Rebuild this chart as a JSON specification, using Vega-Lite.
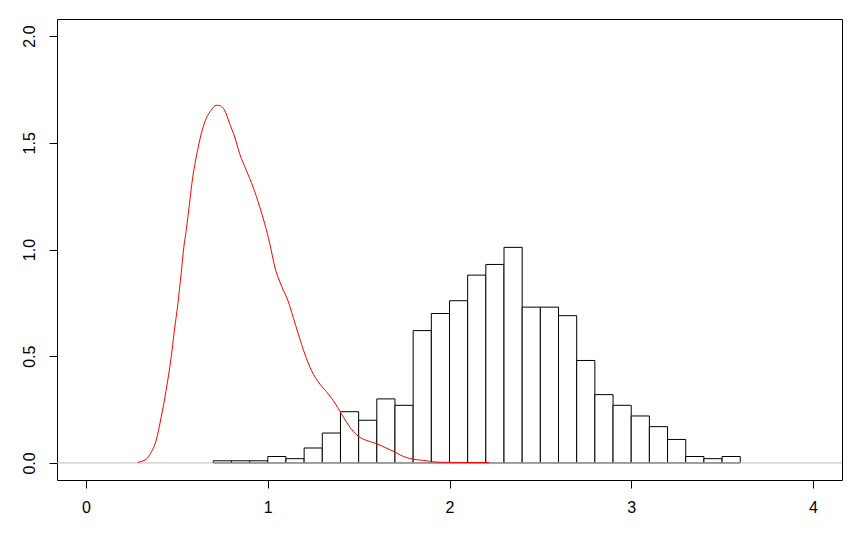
{
  "$schema": "https://vega.github.io/schema/vega-lite/v6.json",
  "width": 785,
  "height": 461,
  "autosize": {"type": "none"},
  "padding": {"left": 57, "top": 19, "right": 19, "bottom": 57},
  "background": "white",
  "config": {
    "view": {"stroke": "black", "strokeWidth": 1},
    "font": "Liberation Sans",
    "axis": {
      "grid": false,
      "domain": false,
      "tickColor": "black",
      "tickSize": 8,
      "tickWidth": 1,
      "labelColor": "black",
      "labelFont": "Liberation Sans",
      "labelFontSize": 16,
      "title": null
    }
  },
  "datasets": {
    "hist": [
      {"start": 0.7, "end": 0.8, "density": 0.01},
      {"start": 0.8, "end": 0.9, "density": 0.01},
      {"start": 0.9, "end": 1.0, "density": 0.01},
      {"start": 1.0, "end": 1.1, "density": 0.03},
      {"start": 1.1, "end": 1.2, "density": 0.02},
      {"start": 1.2, "end": 1.3, "density": 0.07},
      {"start": 1.3, "end": 1.4, "density": 0.14},
      {"start": 1.4, "end": 1.5, "density": 0.24},
      {"start": 1.5, "end": 1.6, "density": 0.20},
      {"start": 1.6, "end": 1.7, "density": 0.30},
      {"start": 1.7, "end": 1.8, "density": 0.27},
      {"start": 1.8, "end": 1.9, "density": 0.62},
      {"start": 1.9, "end": 2.0, "density": 0.70},
      {"start": 2.0, "end": 2.1, "density": 0.76},
      {"start": 2.1, "end": 2.2, "density": 0.88},
      {"start": 2.2, "end": 2.3, "density": 0.93},
      {"start": 2.3, "end": 2.4, "density": 1.01},
      {"start": 2.4, "end": 2.5, "density": 0.73},
      {"start": 2.5, "end": 2.6, "density": 0.73},
      {"start": 2.6, "end": 2.7, "density": 0.69},
      {"start": 2.7, "end": 2.8, "density": 0.48},
      {"start": 2.8, "end": 2.9, "density": 0.32},
      {"start": 2.9, "end": 3.0, "density": 0.27},
      {"start": 3.0, "end": 3.1, "density": 0.22},
      {"start": 3.1, "end": 3.2, "density": 0.17},
      {"start": 3.2, "end": 3.3, "density": 0.11},
      {"start": 3.3, "end": 3.4, "density": 0.03},
      {"start": 3.4, "end": 3.5, "density": 0.02},
      {"start": 3.5, "end": 3.6, "density": 0.03}
    ],
    "dens": [
      {"x": 0.284, "y": 0.003},
      {"x": 0.33, "y": 0.017},
      {"x": 0.357, "y": 0.048},
      {"x": 0.385, "y": 0.103},
      {"x": 0.413, "y": 0.213},
      {"x": 0.44, "y": 0.338},
      {"x": 0.468, "y": 0.494},
      {"x": 0.486, "y": 0.62},
      {"x": 0.505, "y": 0.745},
      {"x": 0.523, "y": 0.886},
      {"x": 0.538, "y": 1.011},
      {"x": 0.551, "y": 1.089},
      {"x": 0.569, "y": 1.215},
      {"x": 0.587, "y": 1.339},
      {"x": 0.61, "y": 1.449},
      {"x": 0.634, "y": 1.543},
      {"x": 0.661, "y": 1.614},
      {"x": 0.689, "y": 1.653},
      {"x": 0.716, "y": 1.676},
      {"x": 0.74, "y": 1.673},
      {"x": 0.762, "y": 1.653},
      {"x": 0.79, "y": 1.59},
      {"x": 0.818, "y": 1.527},
      {"x": 0.845, "y": 1.449},
      {"x": 0.882, "y": 1.371},
      {"x": 0.919, "y": 1.293},
      {"x": 0.956, "y": 1.199},
      {"x": 0.983, "y": 1.121},
      {"x": 1.011, "y": 1.027},
      {"x": 1.039, "y": 0.917},
      {"x": 1.076, "y": 0.828},
      {"x": 1.112, "y": 0.758},
      {"x": 1.14, "y": 0.682},
      {"x": 1.168, "y": 0.604},
      {"x": 1.204, "y": 0.51},
      {"x": 1.241, "y": 0.432},
      {"x": 1.287, "y": 0.369},
      {"x": 1.333, "y": 0.323},
      {"x": 1.37, "y": 0.28},
      {"x": 1.398, "y": 0.24},
      {"x": 1.435, "y": 0.189},
      {"x": 1.471, "y": 0.147},
      {"x": 1.508, "y": 0.119},
      {"x": 1.545, "y": 0.105},
      {"x": 1.6, "y": 0.09},
      {"x": 1.656, "y": 0.068},
      {"x": 1.702, "y": 0.05},
      {"x": 1.729, "y": 0.037},
      {"x": 1.803, "y": 0.017},
      {"x": 1.858, "y": 0.012},
      {"x": 1.913, "y": 0.005},
      {"x": 1.96, "y": 0.003},
      {"x": 2.05, "y": 0.002},
      {"x": 2.217, "y": 0.002}
    ],
    "zero": [{"y": 0}]
  },
  "layer": [
    {
      "data": {"name": "hist"},
      "mark": {"type": "rect", "fill": "white", "stroke": "black", "strokeWidth": 1},
      "encoding": {
        "x": {
          "field": "start",
          "type": "quantitative",
          "scale": {"domain": [-0.16, 4.16], "nice": false, "zero": false},
          "axis": {"values": [0, 1, 2, 3, 4], "labelPadding": 11, "format": "d"}
        },
        "x2": {"field": "end"},
        "y": {
          "field": "density",
          "type": "quantitative",
          "scale": {"domain": [-0.08, 2.08], "nice": false, "zero": false},
          "axis": {"values": [0, 0.5, 1, 1.5, 2], "format": ".1f", "labelAngle": -90, "labelPadding": 12}
        },
        "y2": {"datum": 0}
      }
    },
    {
      "data": {"name": "zero"},
      "mark": {"type": "rule", "color": "#BEBEBE", "strokeWidth": 1},
      "encoding": {"y": {"field": "y", "type": "quantitative"}}
    },
    {
      "data": {"name": "dens"},
      "mark": {"type": "line", "color": "red", "strokeWidth": 1, "interpolate": "monotone"},
      "encoding": {
        "x": {"field": "x", "type": "quantitative"},
        "y": {"field": "y", "type": "quantitative"}
      }
    }
  ]
}
